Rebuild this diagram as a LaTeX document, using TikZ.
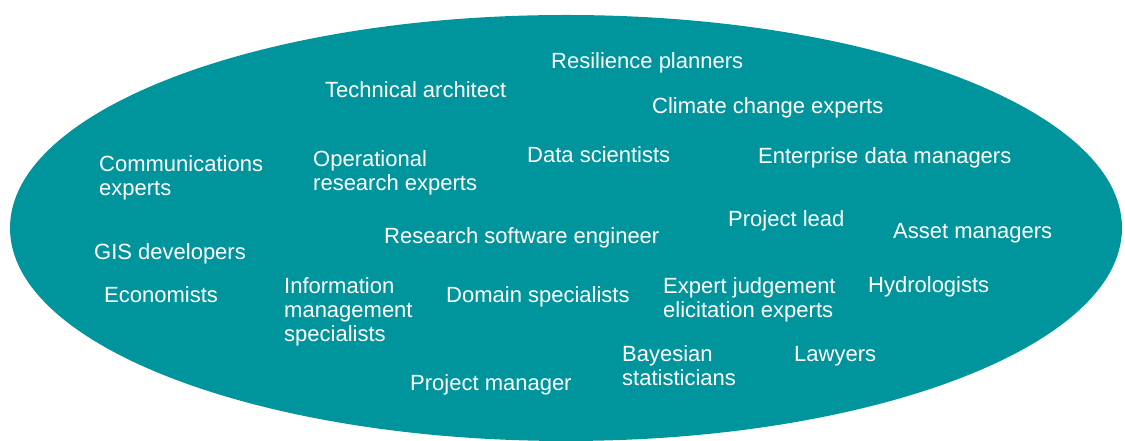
\documentclass[tikz,border=0pt]{standalone}
\usepackage{fontspec}
\setmainfont{Liberation Sans}
\definecolor{teal}{RGB}{0,148,157}
\begin{document}
\begin{tikzpicture}[x=1pt,y=1pt,
  role/.style={text=white, font=\fontsize{22}{24}\selectfont, inner sep=0pt, anchor=base west, align=left}]
\useasboundingbox (0,0) rectangle (1125,441);
% team boundary
\fill[teal] (566,213) ellipse [x radius=556, y radius=213];
% roles (multi-line labels sit on the baseline of their last line)
\node[role] (resil) at (551,372) {Resilience planners};
\node[role] (tech)  at (325,343) {Technical architect};
\node[role] (clim)  at (652,327) {Climate change experts};
\node[role] (comm)  at (99,245) {Communications\\experts};
\node[role] (oper)  at (313,250) {Operational\\research experts};
\node[role] (data)  at (527,278) {Data scientists};
\node[role] (ent)   at (758,277) {Enterprise data managers};
\node[role] (lead)  at (728,214) {Project lead};
\node[role] (asset) at (893,202) {Asset managers};
\node[role] (rse)   at (384,197) {Research software engineer};
\node[role] (gis)   at (94,181) {GIS developers};
\node[role] (econ)  at (104,138) {Economists};
\node[role] (info)  at (284,99) {Information\\management\\specialists};
\node[role] (dom)   at (446,138) {Domain specialists};
\node[role] (expj)  at (663,123) {Expert judgement\\elicitation experts};
\node[role] (hydro) at (868,148) {Hydrologists};
\node[role] (bayes) at (622,55) {Bayesian\\statisticians};
\node[role] (law)   at (794,79) {Lawyers};
\node[role] (pm)    at (410,50) {Project manager};
\end{tikzpicture}
\end{document}
